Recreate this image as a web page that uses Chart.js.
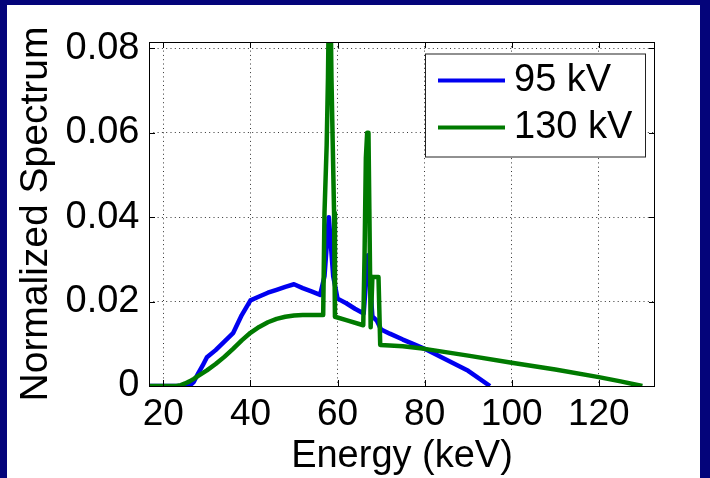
<!DOCTYPE html>
<html>
<head>
<meta charset="utf-8">
<script src="https://cdn.jsdelivr.net/npm/chart.js@4"></script>
<style>
  html, body { margin: 0; padding: 0; background: #04047a; overflow: hidden; }
  #panel { position: absolute; left: 7px; top: 5px; width: 693px; height: 473px; background: #fff; }
  #grafico { position: absolute; left: 0; top: 0; }
</style>
</head>
<body>
<div id="panel"></div>
<canvas id="grafico" width="710" height="478"></canvas>
<script>
// Datos (energía en keV, espectro normalizado)
const energia95 = [16, 26, 27, 28, 29, 30, 32, 34, 36, 38, 40, 42, 44, 46, 48, 50, 52, 54, 56, 57, 58, 59, 60, 62, 64, 66, 67, 68, 69, 70, 72, 75, 78, 80, 85, 90, 95];
const espectro95 = [0, 0, 0.001, 0.003, 0.0048, 0.0068, 0.0085, 0.0105, 0.0125, 0.0168, 0.0203, 0.0212, 0.0221, 0.0228, 0.0235, 0.0241, 0.0232, 0.0224, 0.0216, 0.026, 0.040, 0.026, 0.0207, 0.0196, 0.0183, 0.0172, 0.031, 0.0165, 0.0155, 0.0134, 0.0124, 0.0110, 0.0097, 0.0088, 0.0062, 0.0036, 0];

const energia130 = [16, 23, 24, 25, 26, 27, 28, 30, 32, 34, 36, 38, 40, 42, 44, 46, 48, 50, 52, 54,
    56.7, 57.0, 57.5, 57.8, 58.0, 58.4, 58.6, 58.9, 59.2, 59.4, 62,
    65.9, 66.2, 66.5, 66.8, 67.1, 67.3, 67.6, 68.0, 69.4, 69.8, 72, 75, 80, 90, 100, 110, 120, 125, 130];
const espectro130 = [0, 0, 0.0002, 0.0006, 0.0011, 0.0017, 0.0024, 0.0037, 0.0052, 0.0069, 0.0088, 0.0108, 0.0126, 0.0140, 0.0151, 0.0159, 0.0164, 0.0167, 0.0168, 0.0168,
    0.0168, 0.041, 0.057, 0.073, 0.09, 0.09, 0.073, 0.057, 0.041, 0.0164, 0.0156,
    0.0144, 0.031, 0.054, 0.06, 0.06, 0.042, 0.0139, 0.0258, 0.0258, 0.0097, 0.0096, 0.0094, 0.0088, 0.0072, 0.0055, 0.0039, 0.0021, 0.0011, 0];

const ticksX = [20, 40, 60, 80, 100, 120];
const ticksY = [0, 0.02, 0.04, 0.06, 0.08];
const etiquetasY = ['0', '0.02', '0.04', '0.06', '0.08'];
const series = ['95 kV', '130 kV'];

const fuente = 'Liberation Sans, Arial, Helvetica, sans-serif';

const aPuntos = (xs, ys) => xs.map((x, i) => ({ x: x, y: ys[i] }));

// Caja de ejes estilo MATLAB + marcas hacia dentro
const marcoPlugin = {
    id: 'marco',
    afterDatasetsDraw(chart) {
        const { ctx, chartArea: a, scales } = chart;
        ctx.save();
        ctx.strokeStyle = '#000';
        ctx.lineWidth = 1;
        ctx.setLineDash([]);
        ctx.strokeRect(a.left + 0.5, a.top + 0.5, a.right - a.left - 1, a.bottom - a.top);
        ctx.beginPath();
        ticksY.forEach(v => {
            const y = Math.round(scales.y.getPixelForValue(v)) + 0.5;
            ctx.moveTo(a.left, y); ctx.lineTo(a.left + 6, y);
            ctx.moveTo(a.right - 6, y); ctx.lineTo(a.right, y);
        });
        ticksX.forEach(v => {
            const x = Math.round(scales.x.getPixelForValue(v)) + 0.5;
            ctx.moveTo(x, a.bottom); ctx.lineTo(x, a.bottom - 6);
            ctx.moveTo(x, a.top); ctx.lineTo(x, a.top + 6);
        });
        ctx.stroke();
        ctx.restore();
    }
};

// Leyenda dentro del área del gráfico (arriba a la derecha)
const leyendaPlugin = {
    id: 'leyenda',
    afterDraw(chart) {
        const { ctx, chartArea: a } = chart;
        const ancho = 220, alto = 103;
        const x0 = a.right - 10 - ancho;
        const y0 = a.top + 11.5;
        ctx.save();
        ctx.fillStyle = '#fff';
        ctx.fillRect(x0, y0, ancho, alto);
        ctx.strokeStyle = '#222';
        ctx.lineWidth = 1;
        ctx.strokeRect(x0 + 0.5, y0 + 0.5, ancho, alto);
        ctx.font = '38px ' + fuente;
        ctx.textBaseline = 'middle';
        ctx.fillStyle = '#000';
        chart.data.datasets.forEach((ds, i) => {
            const y = y0 + 27 + i * 47;
            ctx.strokeStyle = ds.borderColor;
            ctx.lineWidth = 4;
            ctx.beginPath();
            ctx.moveTo(x0 + 13, y);
            ctx.lineTo(x0 + 80, y);
            ctx.stroke();
            ctx.fillText(ds.label, x0 + 89, y);
        });
        ctx.restore();
    }
};

new Chart(document.getElementById('grafico'), {
    type: 'line',
    data: {
        datasets: [
            {
                label: series[0],
                data: aPuntos(energia95, espectro95),
                borderColor: '#0000f0',
                borderWidth: 4.5,
                pointRadius: 0,
                tension: 0,
                borderJoinStyle: 'round',
                clip: 0,
                order: 1
            },
            {
                label: series[1],
                data: aPuntos(energia130, espectro130),
                borderColor: '#007a00',
                borderWidth: 4.5,
                pointRadius: 0,
                tension: 0,
                borderJoinStyle: 'round',
                clip: 0,
                order: 0
            }
        ]
    },
    options: {
        responsive: false,
        animation: false,
        layout: { padding: { top: 42, right: 55, left: 0, bottom: 0 } },
        plugins: { legend: { display: false }, tooltip: { enabled: false } },
        scales: {
            x: {
                type: 'linear',
                min: 16.7,
                max: 132.9,
                afterFit: s => { s.height = 92; },
                afterBuildTicks: s => { s.ticks = ticksX.map(v => ({ value: v })); },
                grid: { color: '#333', lineWidth: 1, drawTicks: false },
                border: { display: false, dash: [1, 3.3] },
                ticks: {
                    color: '#000', padding: 10.5, maxRotation: 0, autoSkip: false,
                    font: { family: fuente, size: 37, lineHeight: 1 }
                },
                title: {
                    display: true, text: 'Energy (keV)', color: '#000',
                    font: { family: fuente, size: 38, lineHeight: 1 },
                    padding: { top: 0, bottom: 2 }
                }
            },
            y: {
                min: 0,
                max: 0.0815,
                afterFit: s => { s.width = 149; },
                afterBuildTicks: s => { s.ticks = ticksY.map(v => ({ value: v })); },
                grid: { color: '#333', lineWidth: 1, drawTicks: false },
                border: { display: false, dash: [1, 3.3] },
                ticks: {
                    color: '#000', padding: 9.5, autoSkip: false,
                    font: { family: fuente, size: 38, lineHeight: 1 },
                    callback: (v, i) => etiquetasY[i]
                },
                title: {
                    display: true, text: 'Normalized Spectrum', color: '#000',
                    font: { family: fuente, size: 39, lineHeight: 1 },
                    padding: { top: 17, bottom: 0 }
                }
            }
        }
    },
    plugins: [marcoPlugin, leyendaPlugin]
});
</script>
</body>
</html>
